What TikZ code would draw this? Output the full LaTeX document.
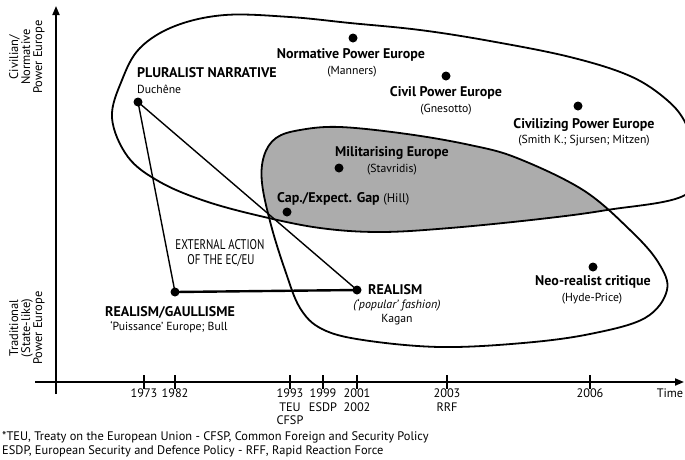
\documentclass[tikz,border=0pt]{standalone}
\usepackage{fontspec}
\setmainfont{PT Sans}
\usetikzlibrary{arrows.meta}
\definecolor{blobgray}{RGB}{172,172,172}
\begin{document}
\begin{tikzpicture}[x=1pt,y=-1pt,
  dot/.style={circle,fill=black,inner sep=0pt,minimum size=9pt},
  bl/.style={font=\fontsize{14}{16}\selectfont\bfseries, inner sep=0pt},
  sl/.style={font=\fontsize{11.7}{13}\selectfont, inner sep=0pt},
  tl/.style={font=\fontsize{12.3}{13.5}\selectfont, inner sep=0pt, align=center, anchor=north},
  fn/.style={font=\fontsize{12.4}{13}\selectfont, inner sep=0pt, anchor=west},
  ax/.style={line width=1.8pt},
  tick/.style={line width=1.4pt},
  blobline/.style={line width=1.8pt},
  link/.style={line width=1.4pt},
  thicklink/.style={line width=2.4pt}]
\useasboundingbox (0,0) rectangle (685,459);

% gray intersection
\begin{scope}
\clip plot[smooth cycle, tension=0.6] coordinates {(112,118) (122,80) (140,48) (175,26) (225,15) (290,17) (350,23) (420,30) (490,41) (570,57) (630,76) (667,100) (686,124) (696,158) (685,195) (607,210) (540,219) (450,228) (380,232) (320,228) (260,216) (205,201) (160,182) (128,157)};
\fill[blobgray] plot[smooth cycle, tension=0.6] coordinates {(262,183) (264,156) (276,138) (300,130) (340,127) (407,134) (470,145) (517,158) (583,190) (630,230) (658,262) (667,290) (645,318) (590,334) (523,343) (440,347) (363,340) (322,329) (300,308) (285,270) (271,225)};
\end{scope}

% blobs
\draw[blobline] plot[smooth cycle, tension=0.6] coordinates {(112,118) (122,80) (140,48) (175,26) (225,15) (290,17) (350,23) (420,30) (490,41) (570,57) (630,76) (667,100) (686,124) (696,158) (685,195) (607,210) (540,219) (450,228) (380,232) (320,228) (260,216) (205,201) (160,182) (128,157)};
\draw[blobline] plot[smooth cycle, tension=0.6] coordinates {(262,183) (264,156) (276,138) (300,130) (340,127) (407,134) (470,145) (517,158) (583,190) (630,230) (658,262) (667,290) (645,318) (590,334) (523,343) (440,347) (363,340) (322,329) (300,308) (285,270) (271,225)};

% axes
\coordinate (ybot) at (56,394);
\coordinate (ytop) at (56,6);
\coordinate (xleft) at (35,382);
\coordinate (xright) at (684,382);
\draw[ax,-{Triangle[length=9pt,width=7pt]}] (ybot) -- (ytop);
\draw[ax,-{Triangle[length=9pt,width=7pt]}] (xleft) -- (xright);
\foreach \x in {144,175,290,323,357,447,590}
  \draw[tick] (\x,375) -- (\x,389);

% axis labels
\node[sl,rotate=90,align=center,font=\fontsize{12.5}{12}\selectfont] (civlab) at (27,57) {Civilian/\\Normative\\Power Europe};
\node[sl,rotate=90,align=center,font=\fontsize{12.5}{12}\selectfont] (tradlab) at (27,328) {Traditional\\(State-like)\\Power Europe};

% tick labels
\node[tl] (t1973) at (144,389) {1973};
\node[tl] (t1982) at (175,389) {1982};
\node[tl] (t1993) at (290,389) {1993\\TEU\\CFSP};
\node[tl] (t1999) at (323,389) {1999\\ESDP};
\node[tl] (t2001) at (357,389) {2001\\2002};
\node[tl] (t2003) at (447,389) {2003\\RRF};
\node[tl] (t2006) at (590,389) {2006};
\node[tl] (time) at (670,389) {Time};

% dots
\node[dot] (duchene) at (138,102) {};
\node[dot] (gaul) at (175,292) {};
\node[dot] (real) at (357,290) {};
\node[dot] (norm) at (353,38) {};
\node[dot] (civil) at (446,76) {};
\node[dot] (civiliz) at (578,106) {};
\node[dot] (milit) at (339,168) {};
\node[dot] (capgap) at (287,212) {};
\node[dot] (neo) at (593,267) {};

% links
\draw[link] (duchene.center) -- (gaul.center);
\draw[link] (duchene.center) -- (real.center);
\draw[thicklink] (gaul.center) -- (real.center);

% labels
\node[bl,anchor=west] (plural) at (137,73) {PLURALIST NARRATIVE};
\node[sl,anchor=west] (duchlab) at (137,89) {Duchêne};
\node[bl] (normlab) at (351,55) {Normative Power Europe};
\node[sl] (manners) at (352,72) {(Manners)};
\node[bl] (civillab) at (446,93) {Civil Power Europe};
\node[sl] (gnes) at (446,110) {(Gnesotto)};
\node[bl] (civilizlab) at (584,125) {Civilizing Power Europe};
\node[sl] (smith) at (584,141) {(Smith K.; Sjursen; Mitzen)};
\node[bl] (militlab) at (392,153) {Militarising Europe};
\node[sl] (stav) at (392,170) {(Stavridis)};
\node[bl,anchor=west] (caplab) at (277,199) {Cap./Expect. Gap \mdseries\fontsize{12.5}{14}\selectfont(Hill)};
\node[sl] (ext1) at (220,245) {\scalebox{0.78}[1]{\fontsize{14}{15}\selectfont EXTERNAL ACTION}};
\node[sl] (ext2) at (221,260) {\scalebox{0.78}[1]{\fontsize{14}{15}\selectfont OF THE EC/EU}};
\node[bl] (gaullab) at (170,312) {REALISM/GAULLISME};
\node[sl] (puiss) at (169,327) {‘Puissance’ Europe; Bull};
\node[bl,anchor=west] (reallab) at (368,290) {REALISM};
\node[sl,font=\fontsize{12}{13}\selectfont\itshape] (popular) at (397,305) {(‘popular’ fashion)};
\node[sl] (kagan) at (397,320) {Kagan};
\node[bl] (neolab) at (593,282) {Neo-realist critique};
\node[sl] (hyde) at (592,299) {(Hyde-Price)};

% footnote
\node[fn] (fn1) at (2,437) {*TEU, Treaty on the European Union - CFSP, Common Foreign and Security Policy};
\node[fn] (fn2) at (2,451) {ESDP, European Security and Defence Policy - RFF, Rapid Reaction Force};
\end{tikzpicture}
\end{document}
